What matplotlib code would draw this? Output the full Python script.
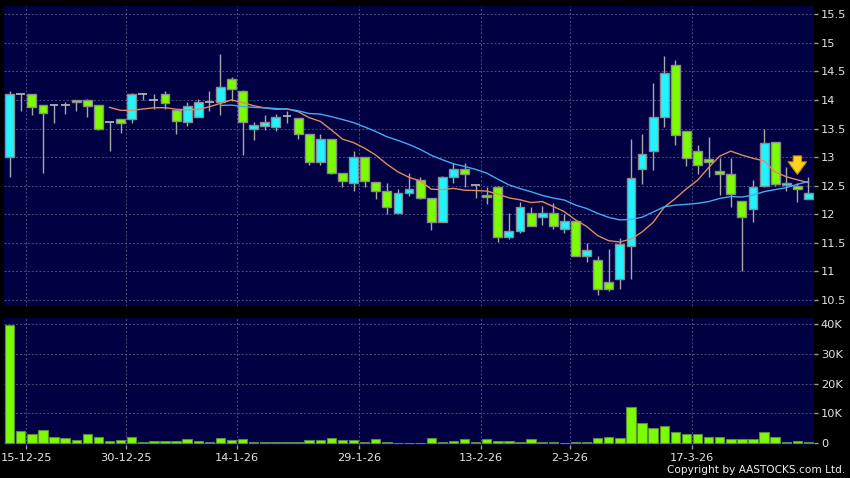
import numpy as np
import pandas as pd
import matplotlib
matplotlib.use("Agg")
import matplotlib.pyplot as plt
from matplotlib.ticker import FuncFormatter

# daily OHLC (HK$) and volume (thousand shares), oldest first
opens = [13.0, 14.1, 14.1, 13.92, 13.92, 13.92, 13.96, 14.0, 13.91, 13.62,
         13.66, 13.66, 14.1, 14.0, 14.1, 13.82, 13.61, 13.7, 13.96, 13.96,
         14.37, 14.15, 13.49, 13.55, 13.52, 13.72, 13.69, 13.4, 12.91, 13.31,
         12.72, 12.54, 13.01, 12.57, 12.4, 12.02, 12.37, 12.6, 12.28, 11.86,
         12.65, 12.8, 12.52, 12.34, 12.48, 11.6, 11.71, 12.02, 11.95, 12.03,
         11.75, 11.88, 11.27, 11.2, 10.82, 10.86, 11.45, 12.79, 13.1, 13.7,
         14.61, 13.45, 13.1, 12.96, 12.76, 12.7, 12.24, 12.09, 12.5, 13.27,
         12.51, 12.5, 12.27]
highs = [14.15, 14.1, 14.1, 13.92, 13.92, 13.97, 14.0, 14.02, 13.91, 13.62,
         13.66, 14.13, 14.13, 14.1, 14.16, 13.82, 13.96, 14.02, 14.15, 14.8,
         14.4, 14.17, 13.62, 13.74, 13.75, 13.8, 13.69, 13.4, 13.4, 13.31,
         12.72, 13.11, 13.01, 12.57, 12.55, 12.44, 12.73, 12.66, 12.28, 12.67,
         12.9, 12.9, 12.52, 12.48, 12.5, 12.02, 12.22, 12.13, 12.15, 12.2,
         12.0, 11.88, 11.5, 11.27, 11.4, 11.58, 13.32, 13.4, 14.3, 14.77,
         14.7, 13.45, 13.21, 13.36, 12.98, 12.98, 12.24, 12.6, 13.5, 13.27,
         12.82, 12.55, 12.65]
lows = [12.66, 13.8, 13.73, 12.73, 13.6, 13.75, 13.81, 13.71, 13.47, 13.11,
        13.42, 13.59, 14.0, 13.85, 13.85, 13.4, 13.55, 13.7, 13.81, 13.73,
        13.98, 13.03, 13.3, 13.47, 13.46, 13.59, 13.31, 12.86, 12.86, 12.7,
        12.48, 12.4, 12.48, 12.26, 12.0, 12.02, 12.32, 12.27, 11.73, 11.86,
        12.55, 12.48, 12.28, 12.18, 11.51, 11.57, 11.68, 11.8, 11.82, 11.75,
        11.67, 11.27, 11.17, 10.59, 10.65, 10.7, 10.86, 12.53, 12.78, 13.52,
        13.22, 12.85, 12.7, 12.65, 12.33, 12.13, 11.0, 11.86, 12.47, 12.5,
        12.4, 12.22, 12.27]
closes = [14.1, 14.1, 13.87, 13.78, 13.92, 13.92, 14.0, 13.89, 13.5, 13.62,
          13.59, 14.1, 14.1, 14.0, 13.94, 13.64, 13.9, 13.96, 13.96, 14.22,
          14.2, 13.62, 13.56, 13.61, 13.7, 13.72, 13.4, 12.92, 13.31, 12.72,
          12.59, 13.01, 12.58, 12.4, 12.12, 12.37, 12.45, 12.29, 11.86, 12.65,
          12.8, 12.7, 12.52, 12.3, 11.6, 11.7, 12.12, 11.8, 12.03, 11.8,
          11.88, 11.27, 11.38, 10.69, 10.7, 11.48, 12.63, 13.05, 13.7, 14.47,
          13.38, 12.98, 12.87, 12.91, 12.71, 12.35, 11.95, 12.48, 13.24, 12.53,
          12.55, 12.44, 12.37]
volume_k = [39.8, 4.2, 3.2, 4.5, 2.2, 1.9, 1.2, 3.0, 2.2, 0.8,
            1.0, 2.2, 0.3, 0.8, 0.8, 0.9, 1.3, 0.8, 0.6, 1.9,
            1.0, 1.4, 0.4, 0.4, 0.3, 0.4, 0.4, 1.0, 1.1, 1.9,
            1.1, 1.0, 0.4, 1.3, 0.6, 0.1, 0.1, 0.1, 1.9, 0.4,
            0.8, 1.6, 0.4, 1.6, 0.9, 0.8, 0.4, 1.5, 0.3, 0.3,
            0.1, 0.4, 0.3, 1.8, 2.2, 1.9, 12.0, 6.8, 5.0, 5.9,
            3.8, 3.1, 3.0, 2.1, 2.1, 1.6, 1.6, 1.6, 3.8, 2.2,
            0.4, 0.7, 0.3]

date_labels = ['15-12-25', '30-12-25', '14-1-26', '29-1-26', '13-2-26', '2-3-26', '17-3-26']
date_idx = [1, 10, 20, 31, 42, 50, 61]
signal_idx = 71

df = pd.DataFrame({'o': opens, 'h': highs, 'l': lows, 'c': closes, 'v': volume_k})
df['ma10'] = df['c'].rolling(10).mean()
df['ma20'] = df['c'].rolling(20).mean()
x = np.arange(len(df))

BG = '#000042'
UP = '#22F4FF'
DOWN = '#7CFC00'
EDGE = '#8C8C8C'
GRID = '#4E4E7C'
TXT = '#E2E2E2'

fig = plt.figure(figsize=(8.5, 4.78), dpi=100, facecolor='black')
ax = fig.add_axes([4/850, 1 - 306/478, 810/850, 300/478], facecolor=BG)
axv = fig.add_axes([4/850, 1 - 445/478, 810/850, 127/478], facecolor=BG, sharex=ax)

for a in (ax, axv):
    for s in a.spines.values():
        s.set_visible(False)
    a.grid(True, color=GRID, linestyle=(0, (2, 2)), linewidth=0.7)
    a.set_axisbelow(True)
    a.yaxis.tick_right()
    a.tick_params(axis='y', colors='#9A9A9A', labelcolor=TXT, labelsize=8.2,
                  length=3, width=1, pad=2)

# wicks
ax.vlines(x, df['l'], df['h'], color='#A8A8A8', linewidth=1, zorder=2)

# bodies
up = df['c'] > df['o']
down = df['c'] < df['o']
flat = df['c'] == df['o']
w = 0.8
ax.bar(x[up], (df['c'] - df['o'])[up], bottom=df['o'][up], width=w,
       color=UP, edgecolor=EDGE, linewidth=1, zorder=3)
ax.bar(x[down], (df['o'] - df['c'])[down], bottom=df['c'][down], width=w,
       color=DOWN, edgecolor=EDGE, linewidth=1, zorder=3)
ax.hlines(df['c'][flat], x[flat] - w/2, x[flat] + w/2, color='#B0B0B0', linewidth=1.3, zorder=3)

# moving averages
ax.plot(x, df['ma10'], color='#E08A5E', linewidth=1, zorder=4)
ax.plot(x, df['ma20'], color='#45AAF0', linewidth=1, zorder=4)

# signal arrow
ax.annotate('', xy=(signal_idx, df['h'][signal_idx] + 0.1),
            xytext=(signal_idx, df['h'][signal_idx] + 0.52),
            arrowprops=dict(arrowstyle='simple,head_width=1.1,head_length=0.75,tail_width=0.5',
                            fc='#FFD21F', ec='#C98F00', lw=0.8, mutation_scale=12),
            zorder=5)

ax.set_ylim(10.395, 15.645)
ax.set_yticks(np.arange(10.5, 15.51, 0.5))
ax.yaxis.set_major_formatter(FuncFormatter(lambda v, p: '%g' % v))
ax.set_xlim(-0.51, len(df) - 0.5)
ax.set_xticks([i + 0.5 for i in date_idx])
ax.tick_params(axis='x', length=0, labelbottom=False)

# volume
axv.bar(x, df['v'], width=0.85, color=DOWN, edgecolor='#5A8A3A', linewidth=0.8, zorder=3)
axv.set_ylim(-0.57, 42.0)
axv.set_yticks([0, 10, 20, 30, 40])
axv.yaxis.set_major_formatter(FuncFormatter(lambda v, p: '0' if v == 0 else '%dK' % v))
axv.set_xticklabels(date_labels)
axv.tick_params(axis='x', colors='#9A9A9A', labelcolor=TXT, labelsize=8.2,
                length=3, width=1, pad=3)

fig.text(0.994, 0.006, 'Copyright by AASTOCKS.com Ltd.', ha='right', va='bottom',
         color='#EEEEEE', fontsize=7.6)

fig.savefig('out.png', dpi=100, facecolor=fig.get_facecolor())
